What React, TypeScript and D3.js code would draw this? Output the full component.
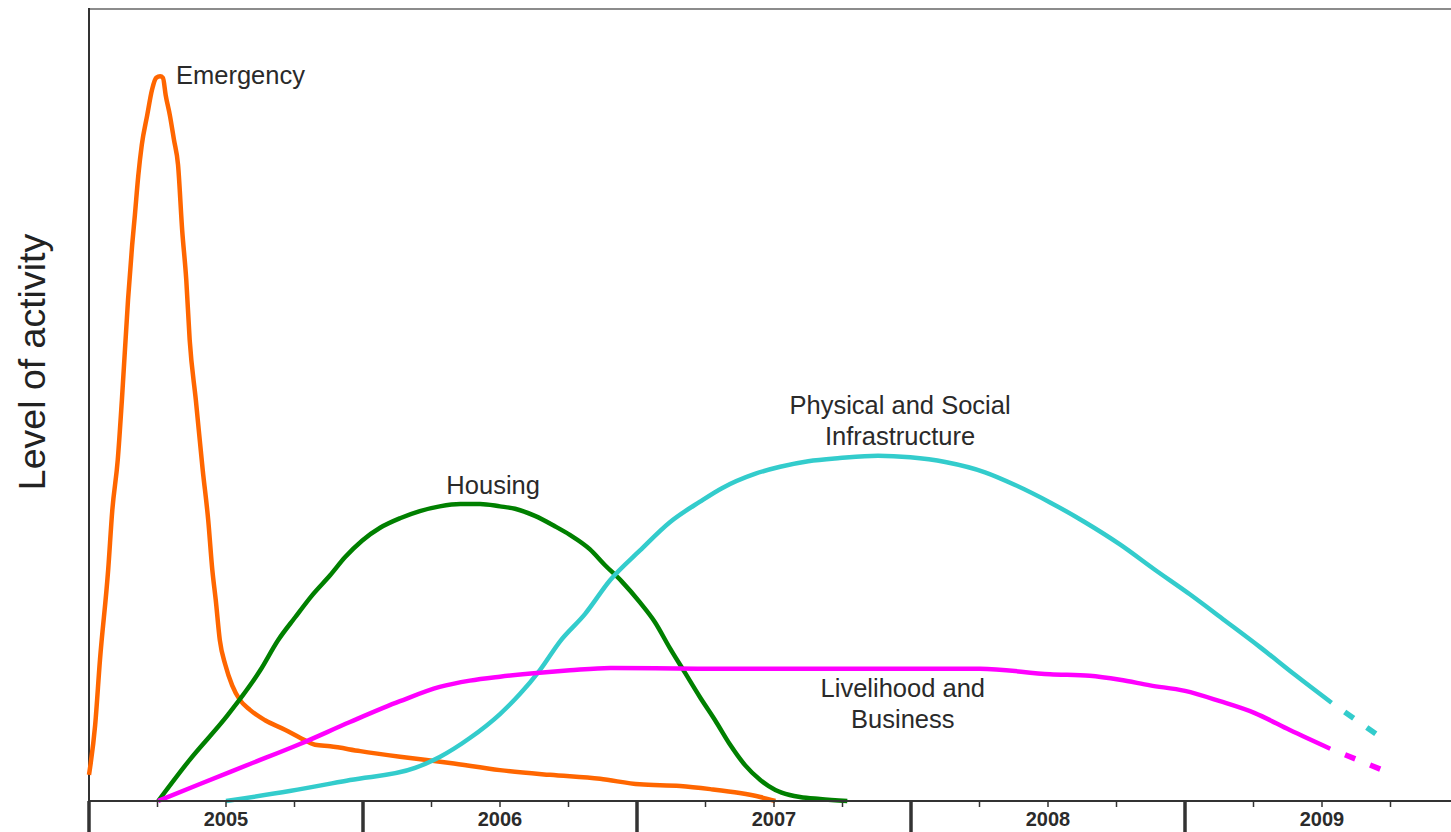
import { useRef, useEffect } from "react";
import * as d3 from "d3";

// x = quarters since start of 2005 (0 = left axis), y = level of activity (0-100)
const emergencyT = [0, 0.09, 0.16, 0.28, 0.34, 0.42, 0.48, 0.57, 0.63, 0.67, 0.72, 0.77, 0.85, 0.92, 0.98, 1.04, 1.08, 1.12, 1.18, 1.24, 1.3, 1.36, 1.42, 1.47, 1.56, 1.66, 1.74, 1.8, 1.85, 1.91, 1.99, 2.09, 2.2, 2.35, 2.57, 2.86, 3.08, 3.3, 3.52, 3.96, 4.54, 5.27, 6.0, 6.73, 7.46, 8.04, 8.63, 9.07, 9.5, 9.8, 10.02];
const emergencyV = [3.3, 9.6, 17.8, 29.2, 36.7, 43.1, 50.6, 63.3, 70.2, 74.0, 79.0, 82.8, 86.6, 89.8, 91.3, 91.5, 91.3, 89.1, 86.6, 83.5, 80.3, 72.1, 65.8, 58.2, 50.6, 41.8, 35.5, 29.2, 25.4, 20.3, 17.2, 14.6, 12.8, 11.5, 10.2, 9.0, 8.0, 7.1, 6.9, 6.3, 5.6, 4.8, 3.9, 3.3, 2.8, 2.1, 1.9, 1.5, 1.0, 0.5, 0];

const housingT = [1.01, 1.47, 2.03, 2.5, 2.76, 3.01, 3.26, 3.52, 3.74, 3.99, 4.25, 4.54, 4.83, 5.12, 5.42, 5.71, 6.0, 6.22, 6.51, 6.8, 7.02, 7.31, 7.53, 7.78, 8.04, 8.26, 8.48, 8.7, 8.92, 9.14, 9.36, 9.58, 9.8, 10.02, 10.23, 10.38, 10.67, 11.07];
const housingV = [0, 5.2, 10.9, 16.5, 20.3, 23.2, 26.0, 28.5, 30.8, 32.9, 34.5, 35.7, 36.6, 37.2, 37.5, 37.5, 37.2, 36.9, 36.0, 34.7, 33.6, 31.8, 29.8, 27.7, 25.1, 22.6, 19.3, 16.2, 13.1, 10.2, 7.1, 4.5, 2.65, 1.4, 0.76, 0.5, 0.25, 0];

const infraT = [2.0, 2.93, 3.81, 4.76, 5.12, 5.56, 6.0, 6.29, 6.58, 6.88, 7.24, 7.61, 8.04, 8.48, 8.92, 9.24, 9.72, 10.09, 10.5, 10.96, 11.52, 11.99, 12.5, 13.08, 13.52, 14.03, 14.54, 15.05, 15.56, 16.07, 16.58, 17.1, 17.61, 18.14];
const infraV = [0, 1.26, 2.65, 4.17, 5.56, 7.95, 10.98, 13.5, 16.5, 20.2, 23.6, 27.9, 31.6, 35.2, 37.8, 39.5, 41.3, 42.2, 42.9, 43.3, 43.6, 43.4, 42.8, 41.5, 39.9, 37.7, 35.2, 32.4, 29.2, 26.1, 22.8, 19.4, 15.9, 12.4];
const infraProjT = [18.14, 18.88];
const infraProjV = [12.4, 7.9];

const livelihoodT = [1.01, 1.62, 2.35, 3.08, 3.81, 4.54, 5.12, 5.56, 6.0, 6.58, 7.02, 7.61, 8.92, 10.38, 11.84, 13.01, 14.03, 14.61, 15.05, 15.49, 16.0, 16.51, 17.02, 17.53, 18.12];
const livelihoodV = [0, 2.15, 4.67, 7.2, 9.97, 12.6, 14.4, 15.2, 15.7, 16.2, 16.5, 16.8, 16.7, 16.7, 16.7, 16.7, 16.0, 15.8, 15.3, 14.6, 13.9, 12.6, 11.1, 8.96, 6.6];
const livelihoodProjT = [18.12, 19.0];
const livelihoodProjV = [6.6, 3.5];

const years = ["2005", "2006", "2007", "2008", "2009"];

const W = 1451;
const H = 832;
const FONT = "Arial, 'Liberation Sans', Helvetica, sans-serif";

const zip = (t: number[], v: number[]) => t.map((d, i) => [d, v[i]] as [number, number]);

export default function App() {
  const svgRef = useRef<SVGSVGElement>(null);

  useEffect(() => {
    if (!svgRef.current) return;
    const svg = d3.select(svgRef.current);
    svg.selectAll("*").remove();

    const x = d3.scaleLinear().domain([0, 20]).range([89, 89 + 20 * 68.5]);
    const y = d3.scaleLinear().domain([0, 100]).range([801, 9]);

    const line = d3
      .line<[number, number]>()
      .x((d) => x(d[0]))
      .y((d) => y(d[1]))
      .curve(d3.curveMonotoneX);

    // frame
    svg.append("line")
      .attr("x1", 89).attr("x2", W).attr("y1", 9).attr("y2", 9)
      .attr("stroke", "#8c8c8c").attr("stroke-width", 2);
    svg.append("line")
      .attr("x1", 89).attr("x2", 89).attr("y1", 8).attr("y2", 801)
      .attr("stroke", "#333").attr("stroke-width", 2);

    // series
    const series = [
      { data: zip(emergencyT, emergencyV), color: "#ff6600" },
      { data: zip(housingT, housingV), color: "#008000" },
      { data: zip(infraT, infraV), color: "#33cccc" },
      { data: zip(livelihoodT, livelihoodV), color: "#ff00ff" },
    ];
    series.forEach((s) => {
      svg.append("path")
        .attr("d", line(s.data))
        .attr("fill", "none")
        .attr("stroke", s.color)
        .attr("stroke-width", 4.5)
        .attr("stroke-linejoin", "round");
    });

    const proj = [
      { data: zip(infraProjT, infraProjV), color: "#33cccc" },
      { data: zip(livelihoodProjT, livelihoodProjV), color: "#ff00ff" },
    ];
    proj.forEach((s) => {
      svg.append("path")
        .attr("d", d3.line<[number, number]>().x((d) => x(d[0])).y((d) => y(d[1]))(s.data))
        .attr("fill", "none")
        .attr("stroke", s.color)
        .attr("stroke-width", 5.5)
        .attr("stroke-dasharray", "11 16")
        .attr("stroke-dashoffset", 11);
    });

    // x axis
    svg.append("line")
      .attr("x1", 89).attr("x2", W).attr("y1", 801).attr("y2", 801)
      .attr("stroke", "#333").attr("stroke-width", 2);
    const ticks = d3.range(0, 21);
    svg.selectAll(".tick")
      .data(ticks)
      .join("line")
      .attr("x1", (d) => x(d)).attr("x2", (d) => x(d))
      .attr("y1", 801)
      .attr("y2", (d) => (d % 4 === 0 ? H : 807))
      .attr("stroke", "#333")
      .attr("stroke-width", (d) => (d % 4 === 0 ? 3.5 : 1.5));
    svg.selectAll(".year")
      .data(years)
      .join("text")
      .attr("x", (_, i) => x(i * 4 + 2))
      .attr("y", 826)
      .attr("text-anchor", "middle")
      .style("font-family", FONT)
      .style("font-weight", "bold")
      .style("font-size", "20px")
      .style("fill", "#2b2b2b")
      .text((d) => d);

    // y label
    svg.append("text")
      .attr("transform", `translate(45,${(801 + 9) / 2 - 43}) rotate(-90)`)
      .attr("text-anchor", "middle")
      .style("font-family", FONT)
      .style("font-size", "37.5px")
      .style("fill", "#222")
      .text("Level of activity");

    // curve labels
    const labels = [
      { lines: ["Emergency"], t: 1.27, v: 90.5, anchor: "start" },
      { lines: ["Housing"], t: 5.9, v: 38.8, anchor: "middle" },
      { lines: ["Physical and Social", "Infrastructure"], t: 11.84, v: 48.9, anchor: "middle" },
      { lines: ["Livelihood and", "Business"], t: 11.88, v: 13.1, anchor: "middle" },
    ];
    labels.forEach((l) => {
      const tx = svg.append("text")
        .attr("x", x(l.t))
        .attr("y", y(l.v))
        .attr("text-anchor", l.anchor)
        .style("font-family", FONT)
        .style("font-size", "25.5px")
        .style("fill", "#2a2a2a");
      l.lines.forEach((s, i) => {
        tx.append("tspan")
          .attr("x", x(l.t))
          .attr("dy", i === 0 ? 0 : 31)
          .text(s);
      });
    });
  }, []);

  return (
    <svg
      ref={svgRef}
      width={W}
      height={H}
      style={{ position: "absolute", left: 0, top: 0, display: "block", background: "#fff" }}
    />
  );
}
